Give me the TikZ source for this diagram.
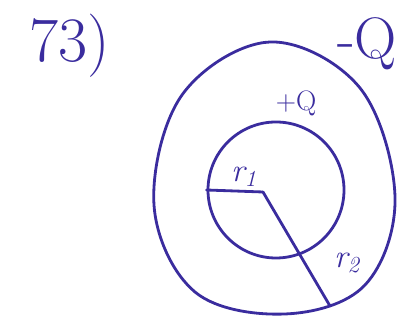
\documentclass[tikz,border=0pt]{standalone}
\usepackage{tikz}
\usetikzlibrary{positioning, calc}
\definecolor{penblue}{RGB}{58,44,158}
\tikzset{
    pen/.style={draw=penblue, line width=2.4pt, line cap=round, line join=round},
    shell/.style={circle, draw=penblue, line width=2.4pt, inner sep=0pt},
    hand/.style={text=penblue, inner sep=0pt}
}

\begin{document}
\begin{tikzpicture}[x=0.03cm, y=-0.03cm]
    \useasboundingbox (0,0) rectangle (412,321);

    % outer shell
    \draw [pen] plot [smooth cycle, tension=0.6] coordinates {(270,42) (360,88) (395,197) (365,285) (285,314) (195,292) (154,205) (182,95)};
    % inner shell
    \node [shell, minimum size=4.08cm] (inner) at (276,190) {};
    \coordinate (mid) at (263,192);
    \coordinate (out) at (330,306);

    \node [hand, font=\fontsize{54}{54}\selectfont] (num) at (70,46) {73)};
    \node [hand, font=\fontsize{50}{50}\selectfont] (negq) at (367,44) {-Q};
    \node [hand, font=\fontsize{24}{24}\selectfont] (posq) at (296,103) {+Q};
    \node [hand, font=\fontsize{28}{28}\selectfont\itshape] (ra) at (244,177) {r\textsubscript{1}};
    \node [hand, font=\fontsize{28}{28}\selectfont\itshape] (rb) at (347,263) {r\textsubscript{2}};

    \draw [pen] (inner.west) -- (mid);
    \draw [pen] (mid) -- (out);
\end{tikzpicture}
\end{document}
